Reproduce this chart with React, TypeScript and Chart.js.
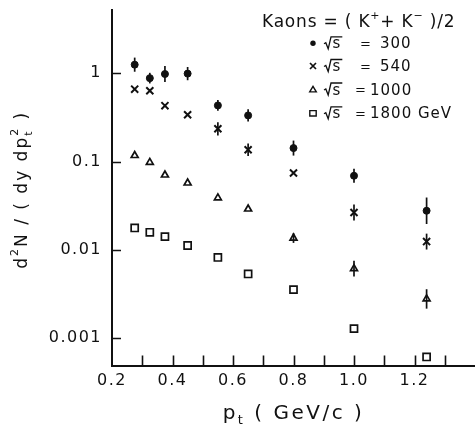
import React, { useEffect, useRef } from "react";
import { Chart, registerables } from "chart.js";
Chart.register(...registerables);

// ---- data ----
const PT = [0.275, 0.325, 0.375, 0.45, 0.55, 0.65, 0.8, 1.0, 1.24];
const S300 = [1.25, 0.88, 0.98, 0.99, 0.432, 0.333, 0.142, 0.069, 0.0277];
const S540 = [0.66, 0.634, 0.429, 0.339, 0.235, 0.136, 0.0741, 0.0265, 0.0124];
const S1000 = [0.117, 0.0978, 0.0704, 0.0571, 0.0387, 0.029, 0.0136, 0.00612, 0.00278];
const S1800 = [0.0177, 0.0158, 0.0141, 0.0112, 0.0082, 0.00533, 0.00354, 0.00128, 0.000612];
// error half-lengths in decades (log10 units)
const E300 = [0.08, 0.06, 0.09, 0.075, 0.06, 0.07, 0.085, 0.08, 0.15];
const E540 = [0, 0, 0, 0, 0.075, 0.07, 0, 0.09, 0.09];
const E1000 = [0, 0, 0, 0, 0, 0, 0.055, 0.09, 0.11];
const E1800 = [0, 0, 0, 0, 0, 0, 0, 0, 0];

const SERIES_NAMES = ["300", "540", "1000", "1800 GeV"];
const Y_TICKS = [0.001, 0.01, 0.1, 1];
const Y_TICK_LABELS = ["0.001", "0.01", "0.1", "1"];
const X_TICKS = [0.2, 0.4, 0.6, 0.8, 1.0, 1.2];
const X_TICK_LABELS = ["0.2", "0.4", "0.6", "0.8", "1.0", "1.2"];
const X_TICK_MARKS = [0.3, 0.4, 0.5, 0.6, 0.7, 0.8, 0.9, 1.0, 1.1, 1.2, 1.3];

const INK = "#111";
const FONT = '"DejaVu Sans"';

type Run = { t: string; size: number; dy: number; stack?: string; stackDy?: number };

function runsWidth(ctx: CanvasRenderingContext2D, runs: Run[]) {
  let w = 0;
  for (const r of runs) {
    ctx.font = `${r.size}px ${FONT}`;
    let a = ctx.measureText(r.t).width;
    if (r.stack) a = Math.max(a, ctx.measureText(r.stack).width);
    w += a;
  }
  return w;
}

function drawRuns(ctx: CanvasRenderingContext2D, runs: Run[], x: number, y: number) {
  let cx = x;
  for (const r of runs) {
    ctx.font = `${r.size}px ${FONT}`;
    ctx.fillText(r.t, cx, y + r.dy);
    let a = ctx.measureText(r.t).width;
    if (r.stack) {
      ctx.fillText(r.stack, cx, y + (r.stackDy || 0));
      a = Math.max(a, ctx.measureText(r.stack).width);
    }
    cx += a;
  }
  return cx;
}

function legendMarker(ctx: CanvasRenderingContext2D, kind: number, x: number, y: number) {
  ctx.save();
  ctx.strokeStyle = INK;
  ctx.fillStyle = INK;
  ctx.lineWidth = 1.4;
  ctx.beginPath();
  if (kind === 0) {
    ctx.arc(x, y, 2.7, 0, Math.PI * 2);
    ctx.fill();
  } else if (kind === 1) {
    ctx.lineWidth = 1.7;
    ctx.moveTo(x - 3, y - 3);
    ctx.lineTo(x + 3, y + 3);
    ctx.moveTo(x + 3, y - 3);
    ctx.lineTo(x - 3, y + 3);
    ctx.stroke();
  } else if (kind === 2) {
    ctx.moveTo(x, y - 3.2);
    ctx.lineTo(x + 3.3, y + 2.4);
    ctx.lineTo(x - 3.3, y + 2.4);
    ctx.closePath();
    ctx.stroke();
  } else {
    ctx.rect(x - 3.2, y - 2.7, 6.4, 5.4);
    ctx.stroke();
  }
  ctx.restore();
}

const ERRORS = [E300, E540, E1000, E1800];

const decor = {
  id: "decor",
  beforeDraw(chart: any) {
    (chart.ctx as any).letterSpacing = "1.5px";
  },
  afterDatasetsDraw(chart: any) {
    const ctx: CanvasRenderingContext2D = chart.ctx;
    const ys = chart.scales.y;
    ctx.save();
    ctx.strokeStyle = INK;
    ctx.lineWidth = 1.7;
    chart.data.datasets.forEach((ds: any, i: number) => {
      const meta = chart.getDatasetMeta(i);
      const errs = ERRORS[i];
      ds.data.forEach((p: any, j: number) => {
        const e = errs[j];
        if (!e) return;
        const x = meta.data[j].x;
        const top = ys.getPixelForValue(p.y * Math.pow(10, e));
        const bot = ys.getPixelForValue(p.y / Math.pow(10, e));
        ctx.beginPath();
        ctx.moveTo(x, top);
        ctx.lineTo(x, bot);
        ctx.stroke();
      });
    });
    ctx.restore();
  },
  afterDraw(chart: any) {
    const ctx: CanvasRenderingContext2D = chart.ctx;
    const { left, bottom } = chart.chartArea;
    const xs = chart.scales.x;
    const ys = chart.scales.y;
    ctx.save();
    // inward tick marks
    ctx.strokeStyle = INK;
    ctx.lineWidth = 1.6;
    ctx.beginPath();
    for (const v of X_TICK_MARKS) {
      const px = Math.round(xs.getPixelForValue(v)) + 0.5;
      ctx.moveTo(px, bottom);
      ctx.lineTo(px, bottom - 10);
    }
    for (const v of Y_TICKS) {
      const py = Math.round(ys.getPixelForValue(v)) + 0.5;
      ctx.moveTo(left, py);
      ctx.lineTo(left + 9, py);
    }
    ctx.stroke();

    ctx.fillStyle = INK;
    ctx.textBaseline = "alphabetic";
    ctx.textAlign = "left";

    // x title: p_t ( GeV/c )
    (ctx as any).letterSpacing = "2.5px";
    const xRuns: Run[] = [
      { t: "p", size: 20, dy: 0 },
      { t: "t", size: 13, dy: 5 },
      { t: " ( GeV/c )", size: 20, dy: 0 },
    ];
    const xw = runsWidth(ctx, xRuns);
    const xc = (chart.chartArea.left + chart.chartArea.right) / 2;
    drawRuns(ctx, xRuns, xc - xw / 2, 418.5);

    // y title: d^2N / ( dy dp_t^2 )
    (ctx as any).letterSpacing = "2px";
    const yRuns: Run[] = [
      { t: "d", size: 17, dy: 0 },
      { t: "2", size: 11, dy: -9 },
      { t: "N / ( dy dp", size: 17, dy: 0 },
      { t: "2", size: 11, dy: -9, stack: "t", stackDy: 5 },
      { t: " )", size: 17, dy: 0 },
    ];
    const yw = runsWidth(ctx, yRuns);
    ctx.save();
    ctx.translate(27, (chart.chartArea.top + chart.chartArea.bottom) / 2 + 2);
    ctx.rotate(-Math.PI / 2);
    drawRuns(ctx, yRuns, -yw / 2, 0);
    ctx.restore();

    // legend title
    (ctx as any).letterSpacing = "0.8px";
    const lRuns: Run[] = [
      { t: "Kaons = ( K", size: 17, dy: 0 },
      { t: "+", size: 11, dy: -8 },
      { t: "+ K", size: 17, dy: 0 },
      { t: "\u2212", size: 11, dy: -8 },
      { t: " )/2", size: 17, dy: 0 },
    ];
    drawRuns(ctx, lRuns, 262, 27.3);

    // legend rows
    const baselines = [48.3, 71, 94.5, 118.3];
    const eqX = [360, 360, 355, 355];
    const numX = [380, 380, 370, 370];
    (ctx as any).letterSpacing = "1px";
    SERIES_NAMES.forEach((name, i) => {
      const b = baselines[i];
      legendMarker(ctx, i, 313, b - 5);
      // radical sqrt(s)
      ctx.font = `15px ${FONT}`;
      const sw = ctx.measureText("s").width;
      const rx = 324;
      ctx.save();
      ctx.lineWidth = 1.3;
      ctx.strokeStyle = INK;
      ctx.beginPath();
      ctx.moveTo(rx, b - 4.5);
      ctx.lineTo(rx + 1.8, b - 5.5);
      ctx.lineTo(rx + 4.2, b + 0.5);
      ctx.lineTo(rx + 7, b - 11.5);
      ctx.lineTo(rx + 8 + sw + 1.5, b - 11.5);
      ctx.stroke();
      ctx.restore();
      ctx.fillText("s", rx + 8.5, b);
      ctx.font = `13px ${FONT}`;
      ctx.fillText("=", eqX[i], b - 0.5);
      ctx.font = `15px ${FONT}`;
      ctx.fillText(name, numX[i], b);
    });
    (ctx as any).letterSpacing = "0px";
    ctx.restore();
  },
};

function mk(label: string, vals: number[], style: string, r: number, filled: boolean, bw: number) {
  return {
    label,
    data: PT.map((x, i) => ({ x, y: vals[i] })),
    pointStyle: style,
    pointRadius: r,
    pointHoverRadius: r,
    pointBackgroundColor: filled ? INK : "#fff",
    pointBorderColor: INK,
    pointBorderWidth: bw,
    showLine: false,
  };
}

export default function App() {
  const ref = useRef<HTMLCanvasElement>(null);
  useEffect(() => {
    const canvas = ref.current!;
    const chart = new Chart(canvas, {
      type: "scatter",
      data: {
        datasets: [
          mk("√s = 300", S300, "circle", 3.5, true, 1),
          mk("√s = 540", S540, "crossRot", 5, false, 2),
          mk("√s = 1000", S1000, "triangle", 4, false, 1.7),
          mk("√s = 1800 GeV", S1800, "rect", 5, false, 1.7),
        ] as any,
      },
      options: {
        responsive: false,
        devicePixelRatio: 1,
        animation: false,
        events: [],
        layout: { autoPadding: false, padding: { top: 10, right: 0, left: 0, bottom: 0 } },
        plugins: { legend: { display: false }, tooltip: { enabled: false } },
        scales: {
          x: {
            type: "linear",
            position: "bottom",
            min: 0.2,
            max: 1.4,
            grid: { display: false, drawTicks: false },
            border: { display: true, color: INK, width: 2 },
            afterFit: (s: any) => {
              s.height = 63.5;
              s.paddingLeft = 0;
              s.paddingRight = 0;
              s.paddingTop = 0;
              s.paddingBottom = 0;
            },
            afterBuildTicks: (s: any) => {
              s.ticks = X_TICKS.map((v) => ({ value: v }));
            },
            ticks: {
              autoSkip: false,
              maxRotation: 0,
              padding: 6,
              color: INK,
              font: { family: "DejaVu Sans", size: 16 },
              callback: (v: any) => {
                const i = X_TICKS.findIndex((t) => Math.abs(t - v) < 1e-6);
                return i >= 0 ? X_TICK_LABELS[i] : "";
              },
            },
          },
          y: {
            type: "logarithmic",
            position: "left",
            min: 0.00049,
            max: 5.2,
            grid: { display: false, drawTicks: false },
            border: { display: true, color: INK, width: 2 },
            afterFit: (s: any) => {
              s.width = 112;
              s.paddingLeft = 0;
              s.paddingRight = 0;
              s.paddingTop = 0;
              s.paddingBottom = 0;
            },
            afterBuildTicks: (s: any) => {
              s.ticks = Y_TICKS.map((v) => ({ value: v }));
            },
            ticks: {
              autoSkip: false,
              padding: 10,
              color: INK,
              font: { family: "DejaVu Sans", size: 16 },
              callback: (v: any) => {
                const i = Y_TICKS.findIndex((t) => Math.abs(Math.log10(t) - Math.log10(v)) < 1e-6);
                return i >= 0 ? Y_TICK_LABELS[i] : "";
              },
            },
          },
        },
      },
      plugins: [decor as any],
    });
    return () => chart.destroy();
  }, []);
  return (
    <div style={{ position: "absolute", left: 0, top: 0, width: 475, height: 429, background: "#fff" }}>
      <canvas ref={ref} width={475} height={429} style={{ display: "block", width: 475, height: 429 }} />
    </div>
  );
}
